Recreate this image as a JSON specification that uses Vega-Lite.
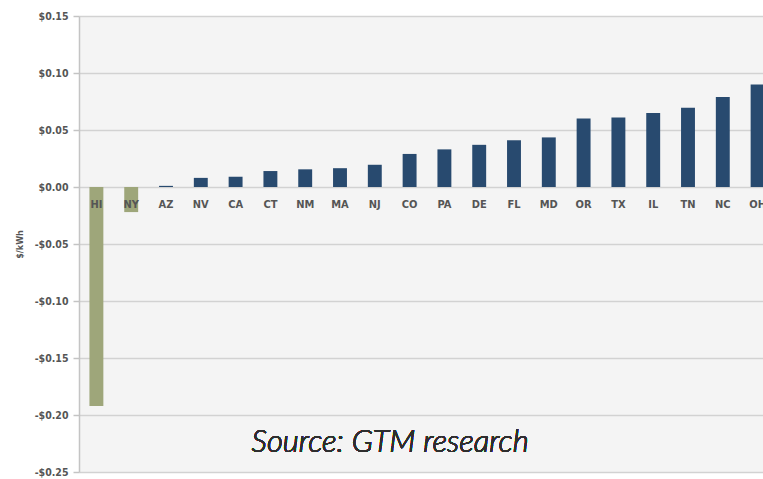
{
  "$schema": "https://vega.github.io/schema/vega-lite/v6.json",
  "autosize": {"type": "none"},
  "padding": {"left": 79, "top": 16, "right": 0, "bottom": 7},
  "width": 684,
  "height": 456,
  "background": "#ffffff",
  "config": {
    "view": {"stroke": null, "fill": "#f4f4f4"},
    "font": "Liberation Sans Narrow, DejaVu Sans Condensed, sans-serif"
  },
  "data": {
    "values": [
      {"state": "HI", "value": -0.192},
      {"state": "NY", "value": -0.022},
      {"state": "AZ", "value": 0.001},
      {"state": "NV", "value": 0.008},
      {"state": "CA", "value": 0.009},
      {"state": "CT", "value": 0.014},
      {"state": "NM", "value": 0.0155},
      {"state": "MA", "value": 0.0165},
      {"state": "NJ", "value": 0.0195},
      {"state": "CO", "value": 0.029},
      {"state": "PA", "value": 0.033},
      {"state": "DE", "value": 0.037},
      {"state": "FL", "value": 0.041},
      {"state": "MD", "value": 0.0435},
      {"state": "OR", "value": 0.060},
      {"state": "TX", "value": 0.061},
      {"state": "IL", "value": 0.065},
      {"state": "TN", "value": 0.0695},
      {"state": "NC", "value": 0.079},
      {"state": "OH", "value": 0.090}
    ]
  },
  "encoding": {
    "x": {
      "field": "state",
      "type": "nominal",
      "sort": null,
      "axis": null,
      "scale": {"range": [0, 696], "paddingInner": 0.6, "paddingOuter": 0.3}
    }
  },
  "layer": [
    {
      "mark": {"type": "bar"},
      "encoding": {
        "y": {
          "field": "value",
          "type": "quantitative",
          "scale": {"domain": [-0.25, 0.15], "nice": false, "zero": false},
          "axis": {
            "title": "$/kWh",
            "titleFontSize": 9,
            "titleColor": "#555555",
            "titleFontWeight": "bold",
            "titlePadding": 10,
            "values": [-0.25, -0.2, -0.15, -0.1, -0.05, 0, 0.05, 0.1, 0.15],
            "labelExpr": "datum.value < 0 ? '-$' + format(-datum.value, '.2f') : '$' + format(datum.value, '.2f')",
            "labelFontSize": 10.5,
            "labelColor": "#555555",
            "labelFontWeight": "bold",
            "labelPadding": 5,
            "tickSize": 6,
            "tickColor": "#c4c4c4",
            "tickWidth": 1.5,
            "domainColor": "#c4c4c4",
            "domainWidth": 1.5,
            "grid": true,
            "gridColor": "#d2d2d2",
            "gridWidth": 1.5
          }
        },
        "color": {
          "condition": {"test": "datum.value < 0", "value": "#9ea67a"},
          "value": "#284a6f"
        }
      }
    },
    {
      "mark": {
        "type": "text",
        "dy": 18,
        "fontSize": 11,
        "fontWeight": "bold",
        "color": "#555555"
      },
      "encoding": {
        "y": {"datum": 0, "type": "quantitative"},
        "text": {"field": "state"}
      }
    },
    {
      "mark": {
        "type": "text",
        "text": "Source: GTM research",
        "font": "Lato",
        "fontStyle": "italic",
        "fontWeight": 300,
        "fontSize": 31,
        "color": "#2e2e2e",
        "align": "left",
        "baseline": "alphabetic",
        "dx": 16
      },
      "encoding": {
        "x": {"datum": "CA"},
        "y": {"datum": -0.2325, "type": "quantitative"}
      }
    }
  ]
}
